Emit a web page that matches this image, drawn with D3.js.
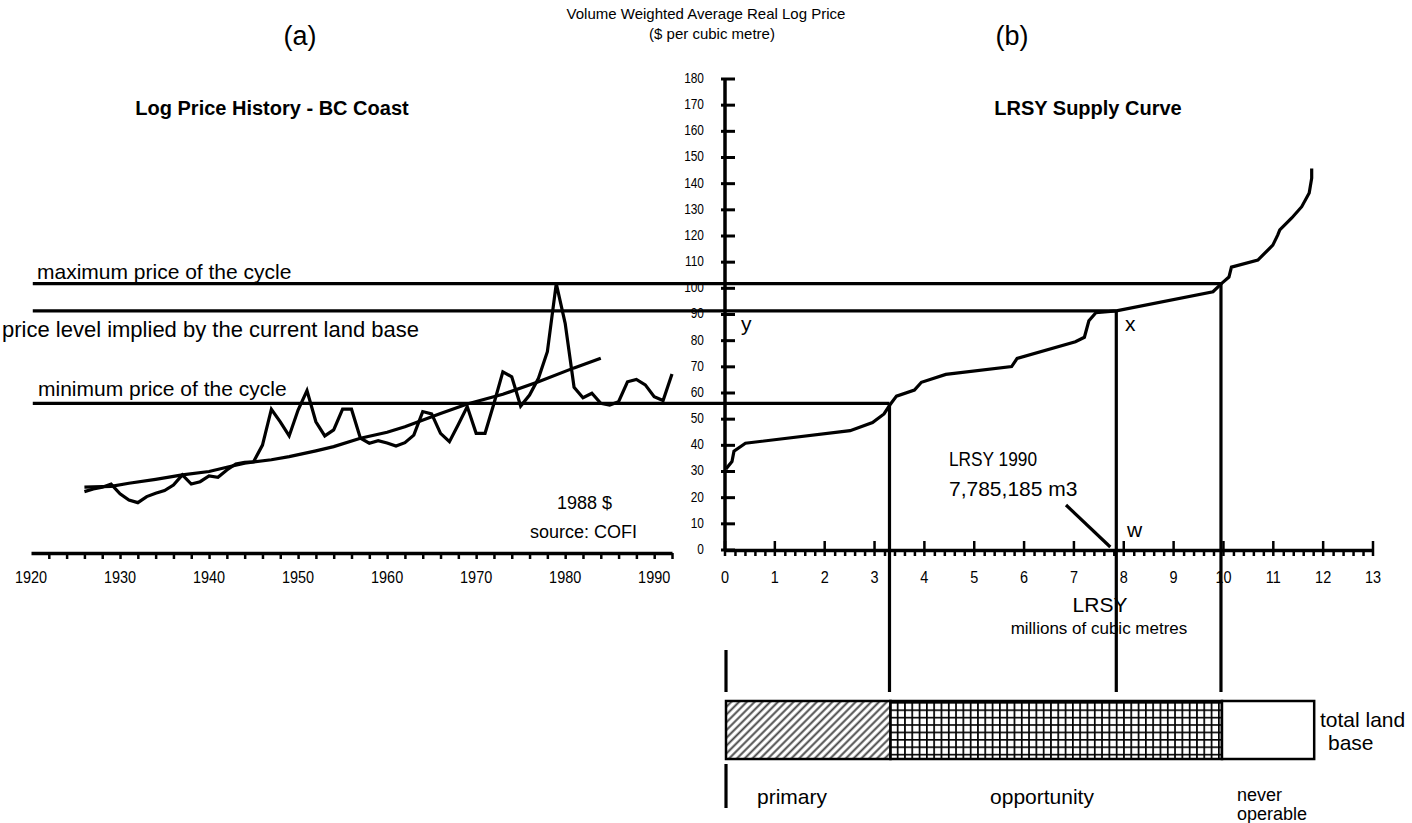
<!DOCTYPE html>
<html><head><meta charset="utf-8">
<script src="https://cdn.jsdelivr.net/npm/d3@7"></script>
<style>
body{margin:0;background:#fff}
text{font-family:"Liberation Sans",Arial,Helvetica,sans-serif;fill:#000}
</style>
</head><body>
<svg id="c" width="1412" height="823"></svg>
<script>
// ---------- data ----------
const priceYears = [1926,1927,1928,1929,1930,1931,1932,1933,1934,1935,1936,1937,1938,1939,1940,1941,1942,1943,1944,1945,1946,1947,1948,1949,1950,1951,1952,1953,1954,1955,1956,1957,1958,1959,1960,1961,1962,1963,1964,1965,1966,1967,1968,1969,1970,1971,1972,1973,1974,1975,1976,1977,1978,1979,1980,1981,1982,1983,1984,1985,1986,1987,1988,1989,1990,1991,1992];
const priceValues = [22.3,23.3,24.0,25.2,21.5,19.1,18.1,20.4,21.7,22.7,24.8,28.7,25.2,26.1,28.3,27.8,30.6,32.9,33.5,33.7,40.1,53.8,49.0,43.6,53.5,60.9,49.0,43.6,45.9,53.8,53.8,42.7,40.8,41.8,40.9,39.7,41.0,43.9,52.9,52.0,44.6,41.4,48.0,54.8,44.6,44.6,56.0,68.1,66.2,55.0,59.2,65.6,75.8,101.8,86.6,62.2,58.2,59.9,56.1,55.4,56.7,64.3,65.2,63.1,58.6,57.1,67.3];
const trendYears = [1926,1929,1931,1934,1937,1940,1942,1944,1947,1949,1952,1954,1957,1960,1962,1966,1969,1973,1977,1981,1984];
const trendValues = [24.0,24.3,25.5,27.0,28.7,30.0,31.6,33.2,34.5,35.7,37.9,39.5,42.7,45.0,47.1,52.2,55.8,59.5,64.3,69.6,73.3];
const supplyVolume = [0.02,0.14,0.18,0.41,2.51,2.96,3.19,3.31,3.44,3.80,3.94,4.43,5.75,5.86,7.03,7.21,7.30,7.44,7.85,9.79,9.97,10.11,10.16,10.69,10.99,11.09,11.13,11.37,11.57,11.72,11.77,11.77];
const supplyPrice = [31.0,33.8,37.8,40.8,45.6,48.7,52.0,55.5,58.8,61.1,64.1,67.1,70.1,73.2,79.6,81.3,87.6,90.7,91.4,98.7,102.0,104.3,108.1,110.8,116.5,120.4,122.3,126.9,131.2,136.4,142.1,145.8];
const priceTicks = [0,10,20,30,40,50,60,70,80,90,100,110,120,130,140,150,160,170,180];
const yearLabels = [1920,1930,1940,1950,1960,1970,1980,1990];
const volumeLabels = [0,1,2,3,4,5,6,7,8,9,10,11,12,13];
const maxPrice = 101.8, impliedPrice = 91.4, minPrice = 56.0;
const primaryEnd = 3.3, lrsy1990 = 7.85, operableEnd = 9.95, totalLand = 11.8;
const landSegments = ["primary","opportunity","never operable"];

// ---------- setup ----------
const svg = d3.select("#c");
const y  = d3.scaleLinear().domain([0,180]).range([550,79]);
const xL = d3.scaleLinear().domain([1920,1992]).range([31,672]);
const xR = d3.scaleLinear().domain([0,13]).range([725,1373]);
const axisYL = 553, axisYR = y(0);

const defs = svg.append("defs");
const hatch = defs.append("pattern").attr("id","hatch").attr("patternUnits","userSpaceOnUse")
  .attr("width",5.5).attr("height",5.5).attr("patternTransform","rotate(45)");
hatch.append("rect").attr("width",5.5).attr("height",5.5).attr("fill","#fff");
hatch.append("line").attr("x1",1.4).attr("x2",1.4).attr("y1",0).attr("y2",5.5)
  .attr("stroke","#444").attr("stroke-width",1.9);
const grid = defs.append("pattern").attr("id","grid").attr("patternUnits","userSpaceOnUse")
  .attr("width",7.3).attr("height",7.4).attr("x",xR(primaryEnd)).attr("y",702);
grid.append("rect").attr("width",7.3).attr("height",7.4).attr("fill","#fff");
grid.append("path").attr("d","M0,0H7.3M0,0V7.4").attr("stroke","#000").attr("stroke-width",3.4);

function label(x, yy, s, o={}) {
  const t = svg.append("text").attr("x",x).attr("y",yy).text(s)
    .attr("font-size",o.size||21).attr("text-anchor",o.anchor||"start");
  if (o.bold) t.attr("font-weight","bold");
  if (o.len) t.attr("textLength",o.len).attr("lengthAdjust","spacingAndGlyphs");
  return t;
}

// ---------- headings ----------
label(706,19,"Volume Weighted Average Real Log Price",{size:15,anchor:"middle"});
label(712,39,"($ per cubic metre)",{size:15,anchor:"middle"});
label(300,45,"(a)",{size:27,anchor:"middle"});
label(1012,45,"(b)",{size:27,anchor:"middle"});
label(272,115,"Log Price History - BC Coast",{size:20,anchor:"middle",bold:true});
label(1088,115,"LRSY Supply Curve",{size:20,anchor:"middle",bold:true});

// ---------- left x axis ----------
const gL = svg.append("g").attr("transform",`translate(0,${axisYL})`)
  .call(d3.axisBottom(xL).tickValues(d3.range(1922,1993,2)).tickSize(6).tickSizeOuter(0).tickFormat(""));
gL.select(".domain").attr("stroke-width",3.5);
gL.selectAll(".tick line").attr("stroke-width",2.5);
svg.selectAll(".yl").data(yearLabels).join("text").attr("class","yl")
  .attr("x",d=>xL(d)).attr("y",583).attr("text-anchor","middle").attr("font-size",17)
  .attr("transform",d=>`translate(${xL(d)},583) scale(0.85,1) translate(${-xL(d)},-583)`)
  .text(d=>d);

// ---------- right x axis ----------
const minor = d3.range(0,65).map(i=>i/5).filter(v=>Math.abs(v-Math.round(v))>1e-6);
const gR = svg.append("g").attr("transform",`translate(0,${axisYR})`)
  .call(d3.axisBottom(xR).tickValues(minor).tickSize(6).tickSizeOuter(0).tickFormat(""));
gR.select(".domain").attr("stroke-width",3.5);
gR.selectAll(".tick line").attr("stroke-width",2.5);
svg.append("g").selectAll("line").data(volumeLabels).join("line")
  .attr("x1",d=>xR(d)).attr("x2",d=>xR(d)).attr("y1",axisYR-9).attr("y2",axisYR+6)
  .attr("stroke","#000").attr("stroke-width",2.5);
svg.selectAll(".vl").data(volumeLabels).join("text").attr("class","vl")
  .attr("x",d=>xR(d)).attr("y",583).attr("text-anchor","middle").attr("font-size",17)
  .attr("transform",d=>`translate(${xR(d)},583) scale(0.85,1) translate(${-xR(d)},-583)`)
  .text(d=>d);

// ---------- y axis ----------
svg.append("line").attr("x1",xR(0)).attr("x2",xR(0)).attr("y1",y(180)).attr("y2",axisYR)
  .attr("stroke","#000").attr("stroke-width",3.5);
svg.append("g").selectAll("line").data(priceTicks).join("line")
  .attr("x1",xR(0)-4).attr("x2",xR(0)+10).attr("y1",d=>y(d)).attr("y2",d=>y(d))
  .attr("stroke","#000").attr("stroke-width",3);
svg.selectAll(".pl").data(priceTicks).join("text").attr("class","pl")
  .attr("x",704).attr("y",d=>y(d)+4).attr("text-anchor","end").attr("font-size",14)
  .attr("transform",d=>`translate(704,${y(d)+4}) scale(0.85,1) translate(-704,${-(y(d)+4)})`)
  .text(d=>d);

// ---------- reference lines ----------
const refLines = [[maxPrice,operableEnd],[impliedPrice,lrsy1990],[minPrice,primaryEnd]];
svg.append("g").selectAll("line").data(refLines).join("line")
  .attr("x1",xL(1920.2)).attr("x2",d=>xR(d[1])).attr("y1",d=>y(d[0])).attr("y2",d=>y(d[0]))
  .attr("stroke","#000").attr("stroke-width",3.2);
svg.append("g").selectAll("line").data(refLines).join("line")
  .attr("x1",d=>xR(d[1])).attr("x2",d=>xR(d[1])).attr("y1",d=>y(d[0])).attr("y2",692)
  .attr("stroke","#000").attr("stroke-width",3.2);
svg.append("line").attr("x1",xR(0)+1).attr("x2",xR(0)+1).attr("y1",650).attr("y2",692)
  .attr("stroke","#000").attr("stroke-width",3.2);
svg.append("line").attr("x1",xR(0)+1).attr("x2",xR(0)+1).attr("y1",764).attr("y2",808)
  .attr("stroke","#000").attr("stroke-width",3.2);

// ---------- lines ----------
const lineL = d3.line().x(d=>xL(d[0])).y(d=>y(d[1]));
svg.append("path").datum(priceYears.map((yr,i)=>[yr,priceValues[i]])).attr("d",lineL)
  .attr("fill","none").attr("stroke","#000").attr("stroke-width",3.2);
svg.append("path").datum(trendYears.map((yr,i)=>[yr,trendValues[i]])).attr("d",lineL)
  .attr("fill","none").attr("stroke","#000").attr("stroke-width",3.2);
const lineR = d3.line().x(d=>xR(d[0])).y(d=>y(d[1]));
svg.append("path").datum(supplyVolume.map((v,i)=>[v,supplyPrice[i]])).attr("d",lineR)
  .attr("fill","none").attr("stroke","#000").attr("stroke-width",3.2);

// ---------- annotations ----------
label(37,279,"maximum price of the cycle");
label(2,337,"price level implied by the current land base",{size:22});
label(38,396,"minimum price of the cycle");
label(557,509,"1988 $",{size:18});
label(530,538,"source: COFI",{size:18});
label(741,331,"y");
label(1125,331,"x");
label(1127,537,"w");
label(949,466,"LRSY 1990",{len:88});
label(949,496,"7,785,185 m3");
svg.append("line").attr("x1",1066).attr("y1",505).attr("x2",xR(lrsy1990)-6).attr("y2",y(0)-3)
  .attr("stroke","#000").attr("stroke-width",3.2);
label(1100,612,"LRSY",{anchor:"middle"});
label(1099,634,"millions of cubic metres",{size:17,anchor:"middle"});

// ---------- land base bar ----------
const bars = [[0,primaryEnd,"url(#hatch)"],[primaryEnd,operableEnd,"url(#grid)"],[operableEnd,totalLand,"#fff"]];
svg.append("g").selectAll("rect").data(bars).join("rect")
  .attr("x",d=>xR(d[0])+1).attr("width",d=>xR(d[1])-xR(d[0])).attr("y",701).attr("height",58)
  .attr("fill",d=>d[2]).attr("stroke","#000").attr("stroke-width",2.5);
label(1320,727,"total land");
label(1328,750,"base");
label(757,804,landSegments[0]);
label(1042,804,landSegments[1],{anchor:"middle"});
label(1237,801,"never",{size:18});
label(1237,820,"operable",{size:18});
</script>
</body></html>
